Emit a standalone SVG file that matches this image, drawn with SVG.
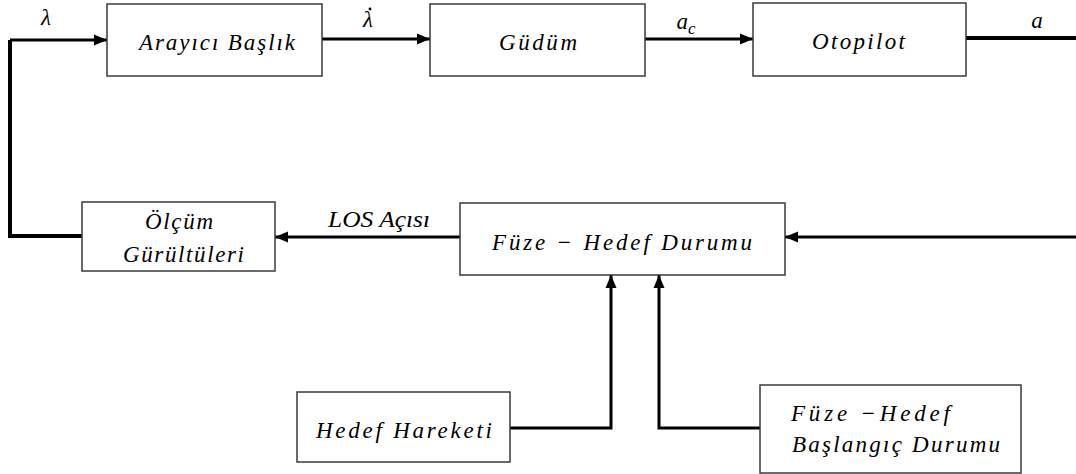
<svg xmlns="http://www.w3.org/2000/svg" width="1076" height="474" viewBox="0 0 1076 474">
  <style>
    .box { fill: #ffffff; stroke: #3a3a3a; stroke-width: 1.5; }
    .lbl { font-family: "Liberation Serif", "DejaVu Serif", serif; font-style: italic; font-size: 23px; fill: #000; }
    .wire { fill: none; stroke: #000; stroke-width: 3; }
    .heavy { stroke-width: 4; }
  </style>
  <defs>
    <marker id="arrow" markerUnits="userSpaceOnUse" markerWidth="13" markerHeight="13" viewBox="0 0 13 13" refX="13" refY="6.5" orient="auto">
      <path d="M0,1 L13,6.5 L0,12 Z" fill="#000"/>
    </marker>
  </defs>
  <rect width="1076" height="474" fill="#ffffff"/>

  <!-- signal paths -->
  <g id="connectors">
    <polyline class="wire heavy" points="82,236 10,236 10,40"/>
    <line class="wire" x1="10" y1="40" x2="107" y2="40" marker-end="url(#arrow)"/>
    <line class="wire" x1="322" y1="39" x2="430" y2="39" marker-end="url(#arrow)"/>
    <line class="wire" x1="645" y1="39" x2="753" y2="39" marker-end="url(#arrow)"/>
    <line class="wire heavy" x1="966" y1="38" x2="1076" y2="38"/>
    <line class="wire" x1="1076" y1="237" x2="785" y2="237" marker-end="url(#arrow)"/>
    <line class="wire" x1="460" y1="237" x2="275" y2="237" marker-end="url(#arrow)"/>
    <polyline class="wire" points="510,428 611,428 611,275" marker-end="url(#arrow)"/>
    <polyline class="wire" points="760,428 659,428 659,275" marker-end="url(#arrow)"/>

    <text class="lbl" x="46" y="25" text-anchor="middle">λ</text>
    <text class="lbl" x="368" y="27" text-anchor="middle">λ</text>
    <circle cx="370" cy="9" r="1.4" fill="#000"/>
    <text class="lbl" x="686" y="29" text-anchor="middle">a<tspan font-size="17" dy="5">c</tspan></text>
    <text class="lbl" x="1037" y="28" text-anchor="middle">a</text>
    <text class="lbl" x="328" y="227" textLength="102" lengthAdjust="spacingAndGlyphs">LOS Açısı</text>
  </g>

  <g id="arayici-baslik">
    <rect class="box" x="107" y="4" width="215" height="72"/>
    <text class="lbl" x="139" y="50" textLength="156" lengthAdjust="spacing">Arayıcı Başlık</text>
  </g>

  <g id="gudum">
    <rect class="box" x="430" y="4" width="215" height="72"/>
    <text class="lbl" x="499" y="50" textLength="78" lengthAdjust="spacing">Güdüm</text>
  </g>

  <g id="otopilot">
    <rect class="box" x="753" y="3" width="213" height="73"/>
    <text class="lbl" x="812" y="49" textLength="93" lengthAdjust="spacing">Otopilot</text>
  </g>

  <g id="olcum-gurultuleri">
    <rect class="box" x="82" y="202" width="193" height="69"/>
    <text class="lbl" x="145" y="229" textLength="68" lengthAdjust="spacing">Ölçüm</text>
    <text class="lbl" x="123" y="262" textLength="121" lengthAdjust="spacing">Gürültüleri</text>
  </g>

  <g id="fuze-hedef-durumu">
    <rect class="box" x="460" y="203" width="325" height="72"/>
    <text class="lbl" x="492" y="250" textLength="260" lengthAdjust="spacing">Füze −  Hedef Durumu</text>
  </g>

  <g id="hedef-hareketi">
    <rect class="box" x="297" y="392" width="213" height="70"/>
    <text class="lbl" x="316" y="438" textLength="176" lengthAdjust="spacing">Hedef Hareketi</text>
  </g>

  <g id="baslangic-durumu">
    <rect class="box" x="760" y="385" width="261" height="88"/>
    <text class="lbl" x="791" y="421" textLength="159" lengthAdjust="spacing">Füze  −Hedef</text>
    <text class="lbl" x="792" y="452" textLength="208" lengthAdjust="spacing">Başlangıç Durumu</text>
  </g>
</svg>
